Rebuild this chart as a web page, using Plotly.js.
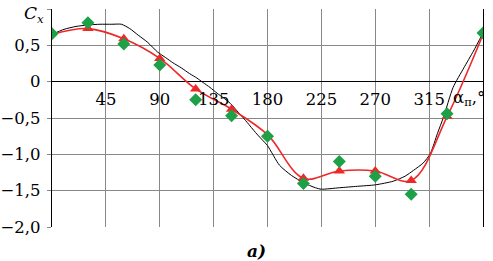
<!DOCTYPE html>
<html>
<head>
<meta charset="utf-8">
<script src="https://cdn.plot.ly/plotly-3.0.1.min.js"></script>
<style>html,body{margin:0;padding:0;background:#fff;}#chart{width:493px;height:261px;}</style>
</head>
<body>
<div id="chart"></div>
<script>
// Black smooth curve (no markers)
const blackAngles = [0, 10, 20, 30, 40, 50, 58, 65, 72, 80, 88, 95, 101, 108, 115, 121, 126, 132, 138, 143, 149, 156, 163, 170, 175, 180, 190, 200, 210, 220, 225, 240, 255, 270, 285, 295, 302, 310, 316, 322, 327, 335, 344, 352, 360];
const blackCx = [0.65, 0.72, 0.76, 0.78, 0.79, 0.79, 0.79, 0.73, 0.64, 0.54, 0.41, 0.33, 0.26, 0.19, 0.11, 0.05, -0.01, -0.08, -0.16, -0.22, -0.30, -0.43, -0.56, -0.70, -0.79, -0.88, -1.15, -1.29, -1.39, -1.46, -1.48, -1.46, -1.44, -1.42, -1.37, -1.30, -1.22, -1.12, -0.99, -0.71, -0.49, -0.08, 0.19, 0.42, 0.67];

// Red series (triangles + smooth line)
const redAngles = [0, 30, 60, 90, 120, 150, 180, 210, 240, 270, 300, 330, 360];
const redCx = [0.65, 0.73, 0.59, 0.32, -0.10, -0.38, -0.73, -1.33, -1.23, -1.23, -1.36, -0.48, 0.65];

// Green series (diamonds only)
const greenAngles = [0, 30, 60, 90, 120, 150, 180, 210, 240, 270, 300, 330, 360];
const greenCx = [0.66, 0.81, 0.52, 0.23, -0.25, -0.47, -0.75, -1.40, -1.10, -1.30, -1.55, -0.44, 0.67];

// Tick labels
const xTickVals = [45, 90, 135, 180, 225, 270, 315];
const xTickText = ["45", "90", "135", "180", "225", "270", "315"];
const yTickVals = [-2, -1.5, -1, -0.5, 0, 0.5, 1];
const yTickText = ["\u22122,0", "\u22121,5", "\u22121,0", "\u22120,5", "0", "0,5", ""];

const FONT = "DejaVu Serif";
const red = "rgb(238,40,40)";
const green = "rgb(28,160,72)";

const traces = [
  {x: blackAngles, y: blackCx, mode: "lines", line: {color: "#000", width: 1, shape: "spline", smoothing: 0.6}, hoverinfo: "skip"},
  {x: redAngles, y: redCx, mode: "lines", line: {color: red, width: 1.6, shape: "spline", smoothing: 1}, hoverinfo: "skip"},
  {x: redAngles.slice(1, -1), y: redCx.slice(1, -1), mode: "markers", marker: {symbol: "triangle-up", size: 10, color: red}, hoverinfo: "skip"},
  {x: greenAngles, y: greenCx, mode: "markers", marker: {symbol: "diamond", size: 10, color: green}, hoverinfo: "skip"}
];

const layout = {
  width: 493, height: 261,
  margin: {l: 52, r: 10, t: 9, b: 34},
  paper_bgcolor: "#fff", plot_bgcolor: "#fff",
  showlegend: false,
  font: {family: FONT, size: 16, color: "#000"},
  xaxis: {
    range: [0, 360], anchor: "free", position: 0.6667,
    tickvals: xTickVals, ticktext: xTickText,
    showgrid: true, gridcolor: "#888", gridwidth: 1,
    showline: false, zeroline: false, ticks: "",
    ticklabelstandoff: 6,
    tickfont: {family: FONT, size: 16.5, color: "#000"}
  },
  yaxis: {
    range: [-2, 1],
    tickvals: yTickVals, ticktext: yTickText,
    showgrid: true, gridcolor: "#888", gridwidth: 1,
    zeroline: true, zerolinecolor: "#000", zerolinewidth: 1.5,
    showline: true, mirror: true, linecolor: "#000", linewidth: 1.2,
    ticks: "outside", ticklen: 4, tickcolor: "#888",
    ticklabelstandoff: 3,
    tickfont: {family: FONT, size: 16.5, color: "#000"}
  },
  annotations: [
    {xref: "paper", yref: "paper", x: -0.014, y: 1.0, xanchor: "right", yanchor: "top", yshift: 8,
     text: "<i>C<sub>x</sub></i>", showarrow: false, font: {family: FONT, size: 17, color: "#000"}},
    {xref: "paper", yref: "paper", x: 1.0, y: 0.6667, xanchor: "right", yanchor: "top", yshift: -4, xshift: 4,
     text: "\u03b1<sub>\u043f</sub>,\u00b0", showarrow: false, font: {family: FONT, size: 16.5, color: "#000"}},
    {xref: "paper", yref: "paper", x: 0.475, y: -0.055, xanchor: "center", yanchor: "top",
     text: "<b><i>a)</i></b>", showarrow: false, font: {family: FONT, size: 17, color: "#000"}}
  ]
};

Plotly.newPlot("chart", traces, layout, {staticPlot: true, displayModeBar: false});
</script>
</body>
</html>
